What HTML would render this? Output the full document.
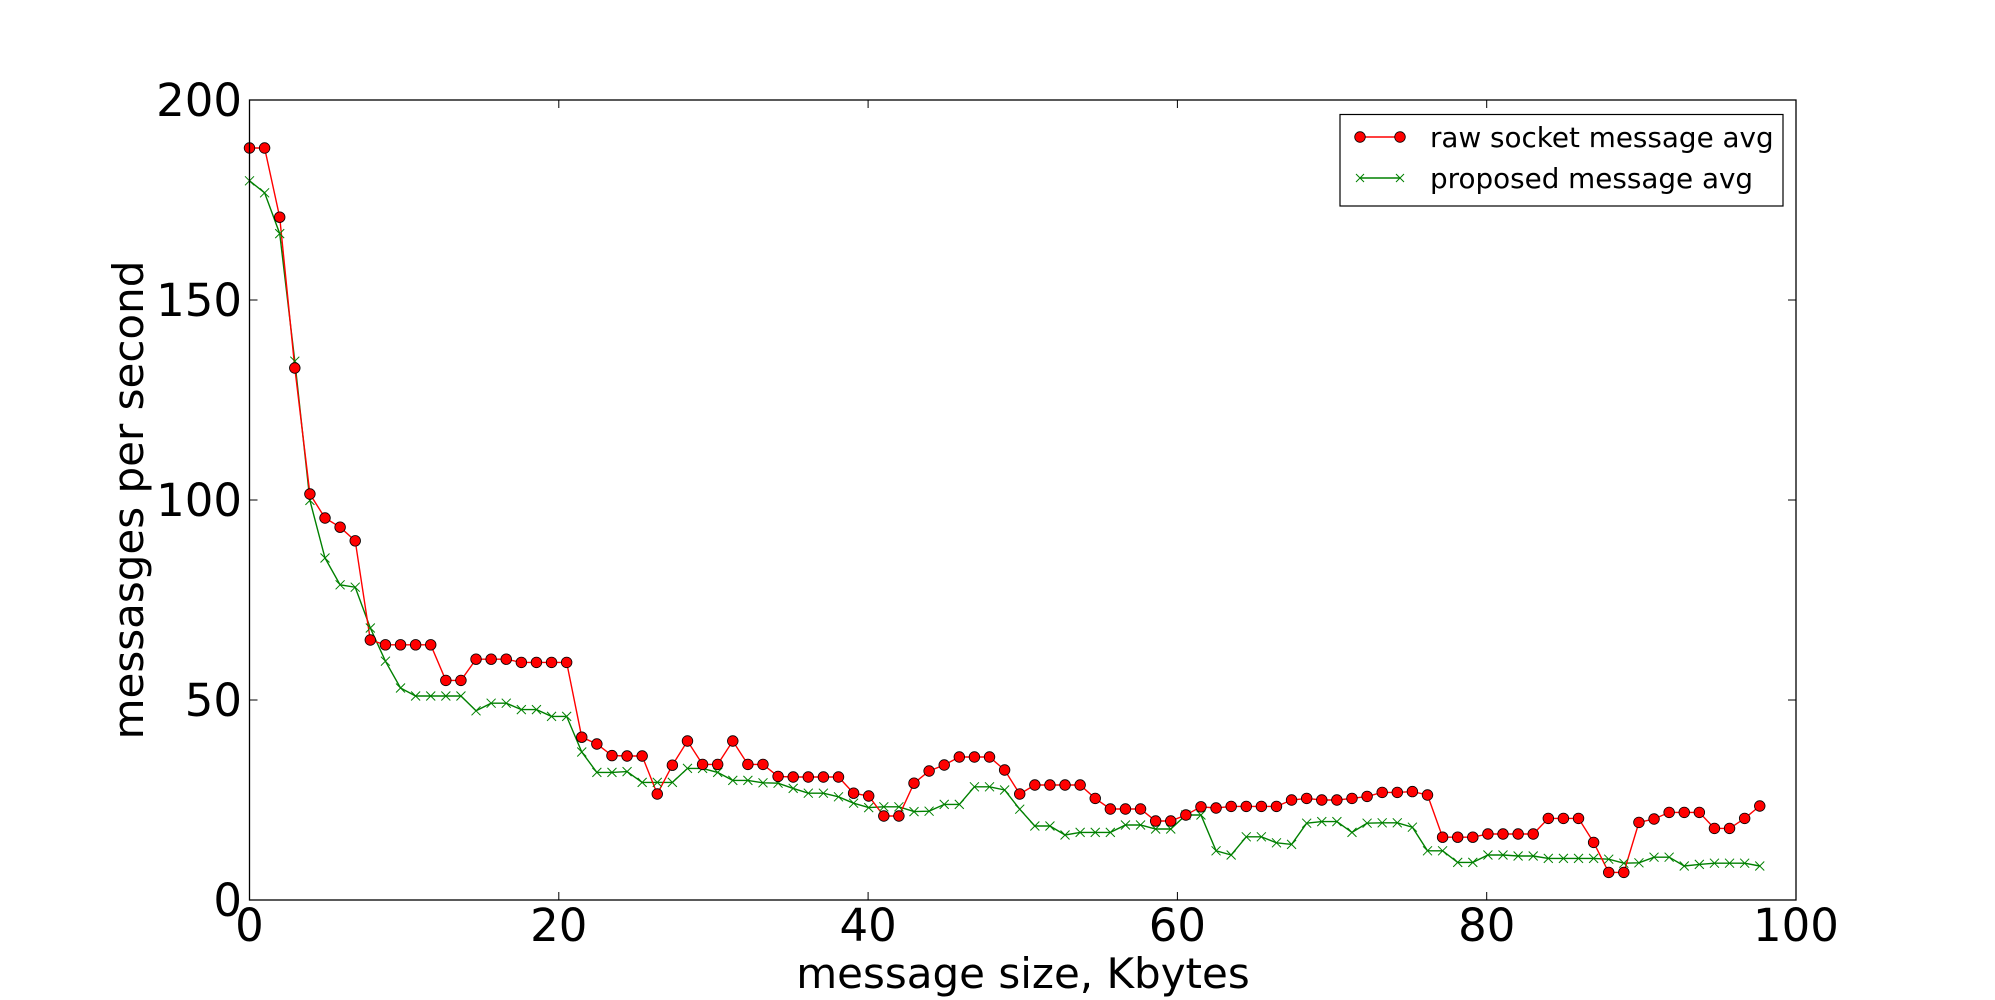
<!DOCTYPE html>
<html><head><meta charset="utf-8"><style>
html,body{margin:0;padding:0;background:#fff;}
svg{display:block;font-family:"DejaVu Sans","Liberation Sans",sans-serif;}
</style></head>
<body>
<svg id="chart" width="1995" height="1000" viewBox="0 0 1995 1000" xmlns="http://www.w3.org/2000/svg">
<rect x="0" y="0" width="1995" height="1000" fill="#fff"/>
<g id="plot"></g>
</svg>
<script>
const xTicks = [0, 20, 40, 60, 80, 100];
const yTicks = [0, 50, 100, 150, 200];
const rawSocket = [188,188,170.7,133,101.5,95.5,93.2,89.8,65,63.8,63.8,63.8,63.8,54.9,54.9,60.2,60.2,60.2,59.4,59.4,59.4,59.4,40.7,39,36.1,36,36,26.5,33.7,39.75,33.9,33.9,39.75,33.9,33.9,30.9,30.75,30.75,30.75,30.75,26.7,26,21,21,29.2,32.25,33.75,35.75,35.75,35.75,32.5,26.5,28.75,28.75,28.75,28.75,25.4,22.75,22.75,22.75,19.75,19.75,21.25,23.3,23,23.4,23.4,23.4,23.4,25,25.4,25,25,25.4,25.9,26.9,26.9,27.1,26.25,15.7,15.7,15.7,16.5,16.5,16.5,16.5,20.4,20.4,20.4,14.4,6.9,6.9,19.4,20.25,21.9,21.9,21.9,17.9,17.9,20.4,23.5];
const proposed = [179.8,176.8,166.6,134.7,99.9,85.5,78.8,78.2,68,59.7,53,51,51,51,51,47.3,49.2,49.2,47.6,47.6,45.9,45.9,37,31.9,31.9,32.1,29.4,29.4,29.4,32.9,32.9,31.9,29.9,29.9,29.3,29.2,27.9,26.7,26.7,25.8,24.2,23.1,23.3,23.3,22.1,22.2,23.9,23.9,28.3,28.3,27.5,22.7,18.5,18.5,16.25,16.9,16.9,16.9,18.75,18.75,17.75,17.75,21.25,21.25,12.3,11.25,15.8,15.8,14.3,13.9,19.2,19.6,19.6,16.9,19.2,19.3,19.3,18.2,12.3,12.3,9.4,9.4,11.25,11.25,11,11,10.4,10.4,10.4,10.4,10.2,9.2,9.3,10.7,10.7,8.5,8.9,9.2,9.2,9.2,8.5];
const xStep = 1000/1024;

const L=249.5, R=1796, T=100, B=900;
const xMin=0,xMax=100,yMin=0,yMax=200;
const sx = v => L + (v-xMin)/(xMax-xMin)*(R-L);
const sy = v => B - (v-yMin)/(yMax-yMin)*(B-T);
const NS="http://www.w3.org/2000/svg";
const g=document.getElementById('plot');
function mk(tag, attrs, parent){const e=document.createElementNS(NS,tag);for(const k in attrs)e.setAttribute(k,attrs[k]);(parent||g).appendChild(e);return e;}

const redPts = rawSocket.map((v,i)=>sx(i*xStep).toFixed(2)+','+sy(v).toFixed(2)).join(' ');
const greenPts = proposed.map((v,i)=>sx(i*xStep).toFixed(2)+','+sy(v).toFixed(2)).join(' ');
const gl = mk('polyline',{points:greenPts,fill:'none',stroke:'#008000','stroke-width':1.4});


const rl = mk('polyline',{points:redPts,fill:'none',stroke:'#ff0000','stroke-width':1.4});


proposed.forEach((v,i)=>{
  const cx=sx(i*xStep), cy=sy(v), s=4.5;
  const p=mk('path',{d:`M${cx-s},${cy-s}L${cx+s},${cy+s}M${cx-s},${cy+s}L${cx+s},${cy-s}`,stroke:'#008000','stroke-width':1,fill:'none'});
  
  
});
rawSocket.forEach((v,i)=>{
  const c=mk('circle',{cx:sx(i*xStep),cy:sy(v),r:5.3,fill:'#ff0000',stroke:'#000','stroke-width':0.8});
  
  
});

const fr=mk('rect',{x:L,y:T,width:R-L,height:B-T,fill:'none',stroke:'#000','stroke-width':1.3});



xTicks.forEach(t=>{
  const x=sx(t);
  const a=mk('path',{d:`M${x},${B}V${B-8}M${x},${T}V${T+8}`,stroke:'#000','stroke-width':1});
  
  
  const tx=mk('text',{x:x,y:941,'text-anchor':'middle','font-size':45,fill:'#000'});
  tx.textContent=t;
  
  
});
yTicks.forEach(t=>{
  const y=sy(t);
  const a=mk('path',{d:`M${L},${y}H${L+8}M${R},${y}H${R-8}`,stroke:'#000','stroke-width':1});
  
  
  const tx=mk('text',{x:242,y:y+16,'text-anchor':'end','font-size':45,fill:'#000'});
  tx.textContent=t;
  
  
});
</script>
<svg style="position:absolute;left:0;top:0" width="1995" height="1000" viewBox="0 0 1995 1000" xmlns="http://www.w3.org/2000/svg">
<text x="1023" y="988" text-anchor="middle" font-size="42" font-family="DejaVu Sans, Liberation Sans, sans-serif">message size, Kbytes</text>
<text transform="translate(143,500) rotate(-90)" text-anchor="middle" font-size="42" font-family="DejaVu Sans, Liberation Sans, sans-serif">messasges per second</text>
<g>
<rect x="1340" y="114.5" width="443" height="91.5" fill="#fff" stroke="#000" stroke-width="1.2"/>
<g>
<line x1="1360" y1="137" x2="1400" y2="137" stroke="#ff0000" stroke-width="1.4"/>
<circle cx="1360" cy="137" r="5.3" fill="#ff0000" stroke="#000" stroke-width="0.8"/>
<circle cx="1400" cy="137" r="5.3" fill="#ff0000" stroke="#000" stroke-width="0.8"/>
<text x="1430" y="147" font-size="27.8" font-family="DejaVu Sans, Liberation Sans, sans-serif">raw socket message avg</text>
</g>
<g>
<line x1="1360" y1="178" x2="1400" y2="178" stroke="#008000" stroke-width="1.4"/>
<path d="M1356,174L1364,182M1356,182L1364,174M1396,174L1404,182M1396,182L1404,174" stroke="#008000" stroke-width="1"/>
<text x="1430" y="188" font-size="27.8" font-family="DejaVu Sans, Liberation Sans, sans-serif">proposed message avg</text>
</g>
</g>
</svg>
</body></html>
